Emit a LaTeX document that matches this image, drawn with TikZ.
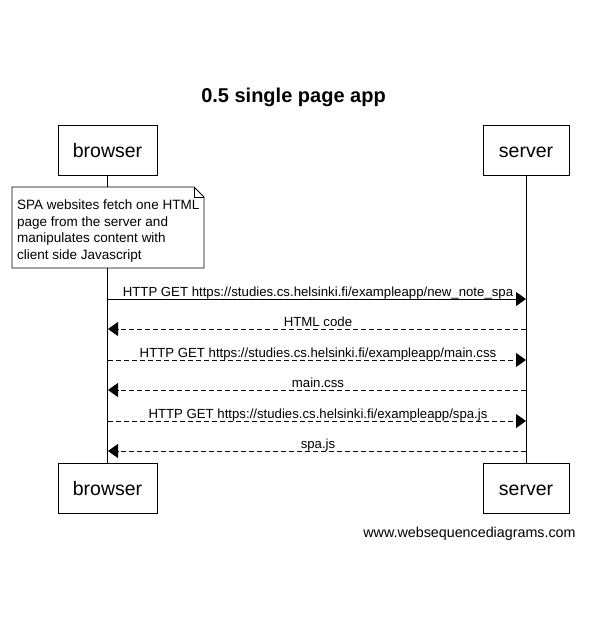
\documentclass[tikz,border=0pt]{standalone}
\usepackage{fontspec}
\setmainfont{Liberation Sans}
\usetikzlibrary{arrows.meta,positioning}
\begin{document}
\begin{tikzpicture}[x=1pt,y=-1pt,
  actor/.style={draw,line width=0.8pt,minimum width=#1,minimum height=50pt,inner sep=0pt,
    text height=16pt,text depth=2pt,font=\fontsize{19.5}{22}\selectfont},
  actor/.default=99pt,
  lifeline/.style={line width=0.8pt},
  msg/.style={line width=0.8pt,-{Triangle[length=10pt,width=14pt]}},
  reply/.style={msg,dash pattern=on 5pt off 3pt},
  lbl/.style={font=\fontsize{13.2}{15}\selectfont,inner sep=0pt,anchor=base},
  notetext/.style={font=\fontsize{13.5}{16.5}\selectfont,align=left,anchor=north west,inner sep=0pt}
]
\useasboundingbox (0,0) rectangle (589,629);
\fill[white] (0,0) rectangle (589,629);

% title
\node[font=\bfseries\fontsize{20}{23}\selectfont,anchor=base] (title) at (293.5,102) {0.5 single page app};

% participants
\node[actor=99pt] (b1) at (107.5,150) {browser};
\node[actor=86pt] (s1) at (526,150) {server};
\node[actor=99pt] (b2) at (107.5,488.5) {browser};
\node[actor=86pt] (s2) at (526,488.5) {server};

% lifelines
\draw[lifeline] (b1.south) -- (b2.north);
\draw[lifeline] (s1.south) -- (s2.north);

% note on the browser lifeline
\filldraw[fill=white,draw=black,line width=0.8pt] (12,187) -- (194,187) -- (204,197) -- (204,268) -- (12,268) -- cycle;
\draw[line width=0.8pt] (194,187) -- (194,197) -- (204,197);
\node[notetext] (note) at (17,200) {SPA websites fetch one HTML\\page from the server and\\manipulates content with\\client side Javascript};

% message rows
\coordinate (bA) at (108,299); \coordinate (sA) at (526,299);
\coordinate (bB) at (108,329); \coordinate (sB) at (526,329);
\coordinate (bC) at (108,360); \coordinate (sC) at (526,360);
\coordinate (bD) at (108,390); \coordinate (sD) at (526,390);
\coordinate (bE) at (108,421); \coordinate (sE) at (526,421);
\coordinate (bF) at (108,451); \coordinate (sF) at (526,451);

\draw[msg] (bA) -- (sA);
\draw[reply] (sB) -- (bB);
\draw[reply] (bC) -- (sC);
\draw[reply] (sD) -- (bD);
\draw[reply] (bE) -- (sE);
\draw[reply] (sF) -- (bF);

\node[lbl] (lA) at (318,296) {HTTP GET https://studies.cs.helsinki.fi/exampleapp/new\_note\_spa};
\node[lbl] (lB) at (318,326) {HTML code};
\node[lbl] (lC) at (318,357) {HTTP GET https://studies.cs.helsinki.fi/exampleapp/main.css};
\node[lbl] (lD) at (318,387) {main.css};
\node[lbl] (lE) at (318,418) {HTTP GET https://studies.cs.helsinki.fi/exampleapp/spa.js};
\node[lbl] (lF) at (318,448) {spa.js};

% footer
\node[font=\fontsize{14.3}{16}\selectfont,anchor=base] (footer) at (469.5,537) {www.websequencediagrams.com};
\end{tikzpicture}
\end{document}
